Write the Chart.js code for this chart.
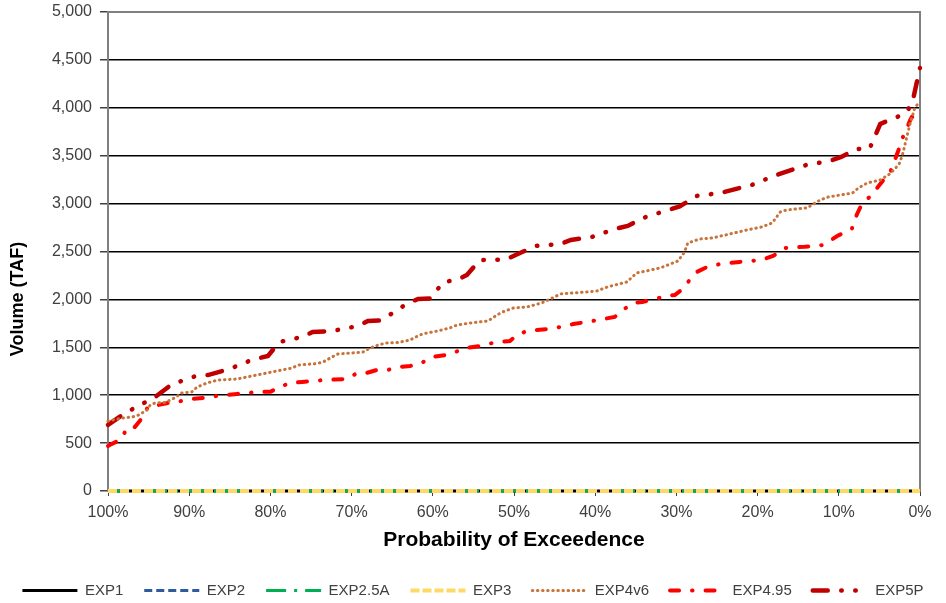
<!DOCTYPE html>
<html>
<head>
<meta charset="utf-8">
<script src="https://cdn.jsdelivr.net/npm/chart.js@4.4.1/dist/chart.umd.min.js"></script>
<style>
html,body{margin:0;padding:0;background:#fff;}
#wrap{width:946px;height:603px;position:relative;}
</style>
</head>
<body>
<div id="wrap"><canvas id="c" width="946" height="603"></canvas></div>
<script>
// ---- data ----
const seriesNames = ['EXP1', 'EXP2', 'EXP2.5A', 'EXP3', 'EXP4v6', 'EXP4.95', 'EXP5P'];

const yTickValues = [0, 500, 1000, 1500, 2000, 2500, 3000, 3500, 4000, 4500, 5000];
const xTickValues = [100, 90, 80, 70, 60, 50, 40, 30, 20, 10, 0];
const xTickLabels = ['100%', '90%', '80%', '70%', '60%', '50%', '40%', '30%', '20%', '10%', '0%'];

const probZero = [100, 0];
const volEXP1 = [0, 0];
const volEXP2 = [0, 0];
const volEXP25A = [0, 0];
const volEXP3 = [0, 0];

const probEXP4v6 = [100, 99.4, 98.2, 97.0, 96.2, 95.2, 94.8, 94.2, 92.9, 91.6,
  91.0, 89.7, 89.0, 87.8, 86.4, 84.1, 82.3, 80.4, 78.6, 77.3,
  76.6, 74.3, 73.5, 72.4, 71.7, 69.3, 68.6, 67.7, 66.7, 65.8,
  64.3, 62.8, 61.6, 60.7, 59.4, 57.9, 57.0, 55.4, 53.2, 52.1,
  51.4, 50.1, 48.4, 46.6, 45.0, 44.3, 41.0, 39.8, 38.5, 36.1,
  34.9, 32.0, 29.8, 29.0, 28.6, 27.1, 25.6, 23.4, 21.3, 19.5,
  18.2, 17.2, 16.4, 13.9, 12.3, 11.3, 8.3, 7.6, 6.5, 4.9,
  3.9, 3.2, 2.5, 2.1, 1.8, 1.5, 1.2, 0.9, 0.6, 0];
const volEXP4v6 = [730, 741, 762, 773, 793, 846, 898, 919, 925, 981,
  1023, 1034, 1086, 1128, 1159, 1169, 1200, 1232, 1263, 1284,
  1315, 1330, 1347, 1399, 1430, 1445, 1451, 1493, 1524, 1545,
  1550, 1576, 1629, 1650, 1670, 1702, 1733, 1754, 1775, 1837,
  1869, 1910, 1921, 1963, 2025, 2057, 2078, 2088, 2130, 2182,
  2276, 2328, 2401, 2495, 2589, 2631, 2641, 2683, 2725, 2756,
  2798, 2913, 2934, 2955, 3038, 3069, 3111, 3163, 3215, 3247,
  3299, 3351, 3424, 3529, 3633, 3738, 3842, 3925, 4009, 4061];

const probEXP495 = [100, 99.8, 98.3, 97.7, 96.7, 95.7, 95.1, 93.8, 92.6, 90.9,
  89.7, 88.3, 86.6, 84.1, 81.5, 80.0, 78.8, 77.6, 76.1, 73.3,
  70.6, 69.3, 68.1, 66.9, 65.5, 64.3, 62.8, 61.6, 60.1, 58.3,
  57.5, 56.0, 54.2, 52.1, 50.5, 49.6, 48.4, 45.8, 44.3, 42.7,
  40.3, 37.6, 36.6, 35.3, 34.2, 32.6, 31.2, 30.2, 29.2, 28.1,
  27.5, 26.2, 24.6, 22.2, 19.5, 18.1, 16.6, 14.2, 11.9, 10.2,
  8.4, 7.8, 7.1, 6.2, 5.3, 4.3, 3.7, 3.1, 2.5, 2.1,
  1.6, 1.2, 1.0, 0];
const volEXP495 = [470, 480, 543, 658, 668, 773, 877, 898, 919, 940,
  960, 971, 992, 1013, 1034, 1036, 1086, 1128, 1138, 1159,
  1169, 1232, 1234, 1263, 1265, 1294, 1305, 1326, 1399, 1420,
  1441, 1493, 1514, 1556, 1566, 1629, 1670, 1691, 1712, 1743,
  1775, 1817, 1890, 1963, 1973, 2004, 2036, 2046, 2109, 2234,
  2286, 2339, 2370, 2391, 2412, 2453, 2537, 2550, 2568, 2662,
  2735, 2881, 3007, 3069, 3163, 3268, 3320, 3456, 3591, 3696,
  3790, 3873, 3904, 3904];

const probEXP5P = [100, 97.9, 94.2, 92.1, 90.5, 89.2, 87.7, 85.0, 82.3, 80.3,
  78.9, 76.1, 74.8, 72.4, 69.2, 68.0, 66.5, 64.7, 63.1, 61.8,
  60.3, 58.7, 57.0, 55.8, 54.2, 51.0, 49.8, 47.3, 44.3, 43.0,
  40.4, 37.6, 36.0, 34.1, 31.0, 29.6, 27.5, 24.6, 20.7, 18.0,
  14.0, 11.1, 9.7, 7.8, 6.2, 4.9, 2.8, 1.6, 0.9, 0];
const volEXP5P = [690, 814, 980, 1117, 1160, 1200, 1210, 1275, 1368, 1410,
  1555, 1608, 1660, 1670, 1722, 1775, 1780, 1869, 1962, 2004,
  2010, 2182, 2203, 2255, 2412, 2415, 2464, 2558, 2579, 2620,
  2652, 2735, 2767, 2850, 2934, 2970, 3080, 3111, 3195, 3289,
  3403, 3445, 3487, 3570, 3575, 3831, 3904, 3957, 4071, 4416];

// ---- build ----
const pts = (px, vy) => px.map((p, i) => ({x: p, y: vy[i]}));

const FONT = "'Liberation Sans', Arial, sans-serif";
Chart.defaults.font.family = FONT;
Chart.defaults.color = '#404040';

const frame = {
  id: 'frame',
  beforeDatasetsDraw(chart) {
    const {ctx, chartArea: a} = chart;
    ctx.save();
    ctx.strokeStyle = '#808080';
    ctx.lineWidth = 2;
    ctx.beginPath();
    ctx.moveTo(a.left, a.bottom);
    ctx.lineTo(a.left, a.top);
    ctx.lineTo(a.right, a.top);
    ctx.lineTo(a.right, a.bottom);
    ctx.lineTo(a.left, a.bottom);
    ctx.stroke();
    ctx.restore();
  }
};

const common = {pointRadius: 0, pointHoverRadius: 0, tension: 0, fill: false, backgroundColor: 'transparent', clip: 4};

const datasets = [
  Object.assign({label: seriesNames[0], data: pts(probZero, volEXP1), borderColor: '#000000', borderWidth: 3, order: 4}, common),
  Object.assign({label: seriesNames[1], data: pts(probZero, volEXP2), borderColor: '#2e5aa0', borderWidth: 3, borderDash: [8, 4], order: 3}, common),
  Object.assign({label: seriesNames[2], data: pts(probZero, volEXP25A), borderColor: '#00b050', borderWidth: 3, borderDash: [20, 8, 3, 8], order: 2}, common),
  Object.assign({label: seriesNames[3], data: pts(probZero, volEXP3), borderColor: '#ffd966', borderWidth: 4, borderDash: [9, 3], order: 1}, common),
  Object.assign({label: seriesNames[4], data: pts(probEXP4v6, volEXP4v6), borderColor: '#c8733a', borderWidth: 3, borderDash: [0.5, 4.6], borderCapStyle: 'round', order: 0}, common),
  Object.assign({label: seriesNames[5], data: pts(probEXP495, volEXP495), borderColor: '#ff0000', borderWidth: 4, borderDash: [9, 13, 0.5, 13], borderCapStyle: 'round', order: 0}, common),
  Object.assign({label: seriesNames[6], data: pts(probEXP5P, volEXP5P), borderColor: '#c00000', borderWidth: 4.5, borderDash: [15, 13.5, 0.5, 13.5, 0.5, 13.5], borderCapStyle: 'round', order: 0}, common)
];

const legendLabels = chart => {
  const items = Chart.defaults.plugins.legend.labels.generateLabels(chart);
  items.forEach(it => {
    const ds = chart.data.datasets[it.datasetIndex];
    it.lineDash = ds.borderDash || [];
    it.lineWidth = ds.borderWidth;
    it.lineCap = ds.borderCapStyle || 'butt';
    it.strokeStyle = ds.borderColor;
    it.fillStyle = ds.borderColor;
    it.pointStyle = 'line';
  });
  items.sort((a, b) => a.datasetIndex - b.datasetIndex);
  return items;
};

new Chart(document.getElementById('c'), {
  type: 'line',
  data: {datasets},
  options: {
    responsive: false,
    animation: false,
    devicePixelRatio: 1,
    layout: {padding: {left: 0, right: 0, top: 12, bottom: -5}},
    plugins: {
      legend: {
        position: 'bottom',
        labels: {
          usePointStyle: true,
          pointStyle: 'line',
          pointStyleWidth: 55,
          padding: 21,
          color: '#404040',
          font: {size: 15, family: FONT},
          generateLabels: legendLabels
        }
      },
      tooltip: {enabled: false}
    },
    scales: {
      x: {
        type: 'linear',
        reverse: true,
        min: 0,
        max: 100,
        afterBuildTicks: s => { s.ticks = xTickValues.map(v => ({value: v})); },
        afterFit: s => { s.height = 71; },
        ticks: {
          autoSkip: false,
          maxRotation: 0,
          padding: 7,
          color: '#404040',
          font: {size: 16},
          callback: (v) => xTickLabels[xTickValues.indexOf(v)]
        },
        grid: {drawOnChartArea: false, drawTicks: true, tickLength: 5, tickColor: '#404040'},
        border: {display: true, color: '#808080', width: 2},
        title: {display: true, text: 'Probability of Exceedence', color: '#000000',
          font: {size: 21, weight: 'bold'}, padding: {top: 0, bottom: 9}}
      },
      y: {
        type: 'linear',
        position: 'left',
        min: 0,
        max: 5000,
        afterBuildTicks: s => { s.ticks = yTickValues.map(v => ({value: v})); },
        afterFit: s => { s.width = 108; s.paddingTop = 0; s.paddingBottom = 0; },
        ticks: {
          padding: 8,
          color: '#404040',
          font: {size: 16},
          callback: v => v.toLocaleString('en-US')
        },
        grid: {
          color: ctx => (ctx.tick && (ctx.tick.value === 5000 || ctx.tick.value === 0)) ? '#808080' : '#000000',
          lineWidth: 1.5,
          tickLength: 8,
          tickColor: '#404040'
        },
        border: {display: true, color: '#808080', width: 2},
        title: {display: true, text: 'Volume (TAF)                   ', color: '#000000',
          font: {size: 18, weight: 'bold'}, padding: {top: 7, bottom: 0}}
      },
      yRight: {
        type: 'linear',
        position: 'right',
        min: 0,
        max: 5000,
        afterFit: s => { s.width = 26; s.paddingTop = 0; s.paddingBottom = 0; },
        ticks: {display: false},
        grid: {display: false, drawTicks: false},
        border: {display: false}
      }
    }
  },
  plugins: [frame]
});
</script>
</body>
</html>
